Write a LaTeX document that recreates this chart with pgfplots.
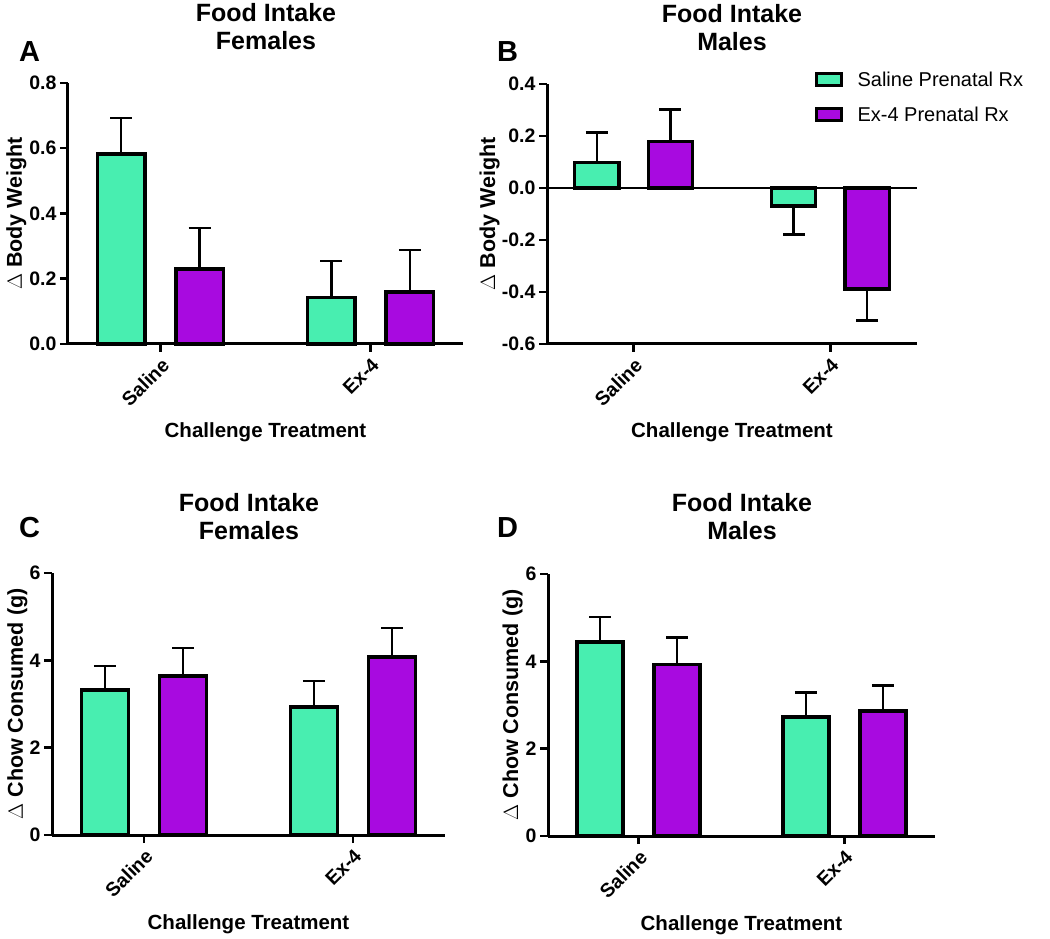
\documentclass[border=0pt]{standalone}
\usepackage{pgfplots}
\pgfplotsset{compat=1.18}
\usepackage{pgfplotstable}
\usepackage{fontspec}
\setmainfont{Liberation Sans}
\definecolor{cgreen}{RGB}{72,238,176}
\definecolor{cpurple}{RGB}{168,10,224}
\newcommand{\tickfont}{\fontsize{19.5}{22}\selectfont\bfseries}
\newcommand{\labfont}{\fontsize{20.5}{24}\selectfont\bfseries}
\newcommand{\ylabfont}{\fontsize{21.5}{24}\selectfont\bfseries}
\newcommand{\titfont}{\fontsize{25}{28}\selectfont\bfseries}
\newcommand{\letfont}{\fontsize{29}{32}\selectfont\bfseries}
\newcommand{\legfont}{\fontsize{20}{24}\selectfont}

% panel A
\pgfplotstableread{
x y e
0 0.583 0.110
1 0.142 0.113
}\Agreen
\pgfplotstableread{
x y e
0 0.230 0.125
1 0.160 0.128
}\Apurple
% panel B
\pgfplotstableread{
x y e
0 0.099 0.114
1 -0.069 -0.110
}\Bgreen
\pgfplotstableread{
x y e
0 0.179 0.122
1 -0.389 -0.121
}\Bpurple
% panel C
\pgfplotstableread{
x y e
0 3.32 0.55
1 2.93 0.60
}\Cgreen
\pgfplotstableread{
x y e
0 3.64 0.64
1 4.08 0.66
}\Cpurple
% panel D
\pgfplotstableread{
x y e
0 4.44 0.57
1 2.72 0.57
}\Dgreen
\pgfplotstableread{
x y e
0 3.93 0.62
1 2.86 0.59
}\Dpurple

\pgfplotsset{
  panel/.style={
    scale only axis,
    axis x line*=bottom, axis y line*=left,
    axis line style={line width=3pt, black, -},
    xmin=-0.44, xmax=1.44,
    xtick={0,1}, xticklabels={Saline,Ex-4},
    tick align=outside, major tick length=8pt,
    every tick/.style={black, line width=2.5pt},
    ybar, bar width=0.225, clip=false,
    /pgf/number format/assume math mode=true,
    y tick label style={font=\tickfont},
    x tick label style={font=\tickfont, rotate=45, anchor=north east},
    xlabel={Challenge Treatment},
    xlabel style={font=\labfont, at={([yshift=-94pt]axis description cs:0.5,0)}, anchor=base},
    ylabel style={font=\ylabfont, anchor=base},
  },
  barbase/.style={draw=black, line width=3.5pt, forget plot,
    error bars/.cd, y dir=plus, y explicit,
    error bar style={line width=2.5pt, black},
    error mark options={rotate=90, mark size=11pt, line width=2.5pt, black}},
  gbar/.style={fill=cgreen, bar shift=-0.187, barbase},
  pbar/.style={fill=cpurple, bar shift=0.187, barbase},
}

\begin{document}
\begin{tikzpicture}
\useasboundingbox (0,0) rectangle (1050pt,938pt);

% ---------- A ----------
\begin{axis}[panel, at={(68pt,594pt)}, anchor=south west, width=395pt, height=261pt,
  ymin=0, ymax=0.8, ytick={0,0.2,0.4,0.6,0.8},
  yticklabel style={/pgf/number format/.cd, fixed, fixed zerofill, precision=1},
  ylabel={$\Delta$ Body Weight},
  ylabel style={at={([xshift=-46pt]axis description cs:0,0.5)}}]
\addplot[gbar] table[x=x, y=y, y error=e] {\Agreen};
\addplot[pbar] table[x=x, y=y, y error=e] {\Apurple};
\end{axis}

% ---------- B ----------
\begin{axis}[panel, at={(547pt,594pt)}, anchor=south west, width=370pt, height=260pt,
  ymin=-0.6, ymax=0.4, ytick={-0.6,-0.4,-0.2,0,0.2,0.4},
  yticklabel style={/pgf/number format/.cd, fixed, fixed zerofill, precision=1},
  ylabel={$\Delta$ Body Weight},
  ylabel style={at={([xshift=-52pt]axis description cs:0,0.5)}},
  legend style={at={(axis description cs:0.724,1.048)}, anchor=north west, draw=none, fill=none,
    inner sep=0pt, font=\legfont, row sep=19pt, nodes={inner sep=0pt}},
  legend cell align=left]
\addplot[sharp plot, black, line width=2.5pt, forget plot] coordinates {(-0.44,0) (1.44,0)};
\addplot[gbar] table[x=x, y=y, y error=e] {\Bgreen};
\addplot[pbar] table[x=x, y=y, y error=e] {\Bpurple};
\addlegendimage{legend image code/.code={\draw[fill=cgreen, draw=black, line width=3pt] (0pt,-6pt) rectangle (25pt,6pt); \path[draw=none] (0pt,0pt) -- (41pt,0pt);}}
\addlegendentry{Saline Prenatal Rx}
\addlegendimage{legend image code/.code={\draw[fill=cpurple, draw=black, line width=3pt] (0pt,-6pt) rectangle (25pt,6pt); \path[draw=none] (0pt,0pt) -- (41pt,0pt);}}
\addlegendentry{Ex-4 Prenatal Rx}
\end{axis}

% ---------- C ----------
\begin{axis}[panel, at={(52pt,103pt)}, anchor=south west, width=393pt, height=262pt,
  ymin=0, ymax=6, ytick={0,2,4,6},
  ylabel={$\Delta$ Chow Consumed (g)},
  ylabel style={at={([xshift=-29pt]axis description cs:0,0.5)}}]
\addplot[gbar] table[x=x, y=y, y error=e] {\Cgreen};
\addplot[pbar] table[x=x, y=y, y error=e] {\Cpurple};
\end{axis}

% ---------- D ----------
\begin{axis}[panel, at={(548pt,102pt)}, anchor=south west, width=387pt, height=262pt,
  ymin=0, ymax=6, ytick={0,2,4,6},
  ylabel={$\Delta$ Chow Consumed (g)},
  ylabel style={at={([xshift=-30pt]axis description cs:0,0.5)}}]
\addplot[gbar] table[x=x, y=y, y error=e] {\Dgreen};
\addplot[pbar] table[x=x, y=y, y error=e] {\Dpurple};
\end{axis}

% titles and panel letters
\node[font=\titfont, anchor=base] at (266pt,916pt) {Food Intake};
\node[font=\titfont, anchor=base] at (266pt,888pt) {Females};
\node[font=\titfont, anchor=base] at (732pt,915pt) {Food Intake};
\node[font=\titfont, anchor=base] at (732pt,887pt) {Males};
\node[font=\titfont, anchor=base] at (249pt,426pt) {Food Intake};
\node[font=\titfont, anchor=base] at (249pt,398pt) {Females};
\node[font=\titfont, anchor=base] at (742pt,426pt) {Food Intake};
\node[font=\titfont, anchor=base] at (742pt,398pt) {Males};
\node[font=\letfont, anchor=base west, inner sep=0pt] at (19pt,876pt) {A};
\node[font=\letfont, anchor=base west, inner sep=0pt] at (497pt,876pt) {B};
\node[font=\letfont, anchor=base west, inner sep=0pt] at (19pt,400pt) {C};
\node[font=\letfont, anchor=base west, inner sep=0pt] at (497pt,400pt) {D};
\end{tikzpicture}
\end{document}
